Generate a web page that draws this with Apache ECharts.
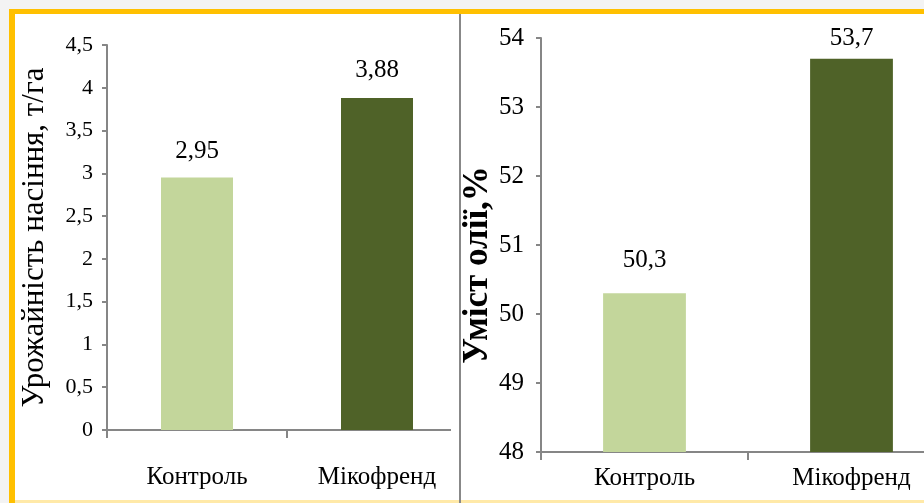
<!DOCTYPE html>
<html>
<head>
<meta charset="utf-8">
<script src="https://cdn.jsdelivr.net/npm/echarts@6/dist/echarts.min.js"></script>
<style>
html,body{margin:0;padding:0;background:#f3f3f3;width:924px;height:503px;overflow:hidden;}
#chart{width:960px;height:503px;}
</style>
</head>
<body>
<div id="chart"></div>
<script>
// ---- data ----
const categories = ['Контроль', 'Мікофренд'];
const yieldValues = [2.95, 3.88];   // Урожайність насіння, т/га
const oilValues = [50.3, 53.7];     // Уміст олії, %
const yieldAxisName = 'Урожайність насіння, т/га';
const oilAxisName = 'Уміст олії,%';

// ---- styles ----
const barColors = ['#c3d69b', '#4f6228'];
const yieldLabelDist = [14, 15];
const oilLabelDist = [20, 8];
const FONT = "'Liberation Serif', 'Times New Roman', serif";
const AX = '#868686';
const comma = v => String(v).replace('.', ',');

const chart = echarts.init(document.getElementById('chart'));

function axisCommon() {
  return {
    axisLine: {show: true, lineStyle: {color: AX, width: 2}},
    splitLine: {show: false}
  };
}

const option = {
  animation: false,
  backgroundColor: '#f3f3f3',
  graphic: [
    {type: 'rect', z: -20, silent: true, shape: {x: 9, y: 9, width: 951, height: 494}, style: {fill: '#ffc000'}},
    {type: 'rect', z: -19, silent: true, shape: {x: 15, y: 14, width: 945, height: 489}, style: {fill: '#ffffff'}},
    {type: 'rect', z: -18, silent: true, shape: {x: 15, y: 500, width: 945, height: 3}, style: {fill: '#ffe9a8'}},
    {type: 'rect', z: 50, silent: true, shape: {x: 451, y: 424, width: 25, height: 16}, style: {fill: '#ffffff'}},
    {type: 'rect', z: 60, silent: true, shape: {x: 459, y: 14, width: 2, height: 489}, style: {fill: '#888888'}}
  ],
  grid: [
    {left: 107, top: 45, width: 360, height: 385},
    {left: 541, top: 38, width: 414, height: 414}
  ],
  xAxis: [
    Object.assign(axisCommon(), {
      type: 'category', gridIndex: 0, data: categories,
      axisTick: {show: true, length: 8, lineStyle: {color: AX, width: 2}},
      axisLabel: {interval: 0, margin: 35, fontSize: 25, color: '#000', fontFamily: FONT}
    }),
    Object.assign(axisCommon(), {
      type: 'category', gridIndex: 1, data: categories,
      axisTick: {show: true, length: 8, lineStyle: {color: AX, width: 2}},
      axisLabel: {interval: 0, margin: 14, fontSize: 25, color: '#000', fontFamily: FONT}
    })
  ],
  yAxis: [
    Object.assign(axisCommon(), {
      type: 'value', gridIndex: 0, min: 0, max: 4.5, interval: 0.5,
      axisTick: {show: true, length: 5, lineStyle: {color: AX, width: 2}},
      axisLabel: {margin: 14, fontSize: 22, color: '#000', fontFamily: FONT, formatter: v => comma(v)},
      name: yieldAxisName, nameLocation: 'middle', nameGap: 57,
      nameTextStyle: {fontSize: 31, color: '#000', fontFamily: FONT}
    }),
    Object.assign(axisCommon(), {
      type: 'value', gridIndex: 1, min: 48, max: 54, interval: 1,
      axisTick: {show: true, length: 5, lineStyle: {color: AX, width: 2}},
      axisLabel: {margin: 17, fontSize: 25, color: '#000', fontFamily: FONT, formatter: v => comma(v)},
      name: oilAxisName, nameLocation: 'middle', nameGap: 44,
      nameTextStyle: {fontSize: 35, fontWeight: 'bold', color: '#000', fontFamily: FONT, padding: [0, 40, 0, 0]}
    })
  ],
  series: [
    {
      type: 'bar', xAxisIndex: 0, yAxisIndex: 0, barWidth: '40%',
      data: yieldValues.map((v, i) => ({value: v, itemStyle: {color: barColors[i]}, label: {distance: yieldLabelDist[i]}})),
      label: {show: true, position: 'top', fontSize: 25, color: '#000', fontFamily: FONT, formatter: p => comma(p.value)}
    },
    {
      type: 'bar', xAxisIndex: 1, yAxisIndex: 1, barWidth: '40%',
      data: oilValues.map((v, i) => ({value: v, itemStyle: {color: barColors[i]}, label: {distance: oilLabelDist[i]}})),
      label: {show: true, position: 'top', fontSize: 25, color: '#000', fontFamily: FONT, formatter: p => comma(p.value)}
    }
  ]
};
chart.setOption(option);
</script>
</body>
</html>
